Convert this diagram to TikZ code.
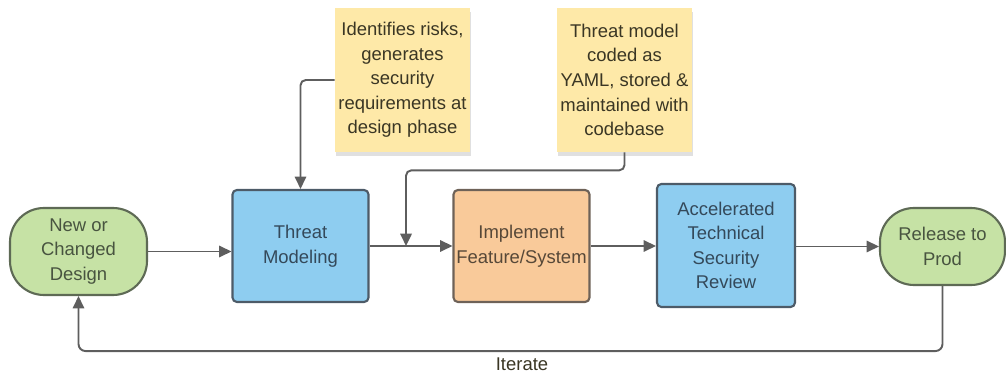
\documentclass[tikz,border=0pt]{standalone}
\usepackage{fontspec}
\setmainfont{Liberation Sans}
\usetikzlibrary{arrows.meta,shadows,calc}

\definecolor{termgreen}{HTML}{C6E2A5}
\definecolor{termedge}{HTML}{5E6A55}
\definecolor{termtext}{HTML}{485440}
\definecolor{procblue}{HTML}{8ECDF0}
\definecolor{procedge}{HTML}{4D5B68}
\definecolor{proctext}{HTML}{34495A}
\definecolor{implorange}{HTML}{F9CA9A}
\definecolor{impledge}{HTML}{6E6258}
\definecolor{impltext}{HTML}{574838}
\definecolor{noteyellow}{HTML}{FEE9A8}
\definecolor{notetext}{HTML}{3A3624}
\definecolor{linegray}{HTML}{5E5E5E}

\begin{document}
\begin{tikzpicture}[
  font=\fontsize{10.5}{14}\selectfont,
  flow/.style={draw=linegray, line width=1.1pt, -{Triangle[length=7pt,width=6.5pt]}},
  terminal/.style={draw=termedge, fill=termgreen, text=termtext, line width=1.2pt,
    rounded corners=0.68cm, align=center, inner sep=0pt},
  process/.style={line width=1.2pt, rounded corners=2.5pt, align=center,
    inner sep=0pt, minimum width=2.72cm},
  note/.style={fill=noteyellow, text=notetext, align=center, inner sep=0pt,
    minimum width=2.7cm, minimum height=2.88cm,
    drop shadow={shadow xshift=0.5pt, shadow yshift=-2pt, opacity=0.12, fill=black}},
]
  \useasboundingbox (0,0) rectangle (20.12,7.48);

  % main flow
  \node[terminal, minimum width=2.74cm, minimum height=1.74cm] (new) at (1.57,2.45)
    {New or\\Changed\\Design};
  \node[process, draw=procedge, fill=procblue, text=proctext, minimum height=2.24cm]
    (threat) at (6.01,2.56) {Threat\\Modeling};
  \node[process, draw=impledge, fill=implorange, text=impltext, minimum height=2.24cm]
    (impl) at (10.43,2.56) {Implement\\Feature/System};
  \node[process, draw=procedge, fill=procblue, text=proctext, minimum width=2.76cm,
    minimum height=2.46cm] (review) at (14.52,2.57)
    {Accelerated\\Technical\\Security\\Review};
  \node[terminal, minimum width=2.5cm, minimum height=1.54cm] (release) at (18.85,2.55)
    {Release to\\Prod};

  % sticky notes
  \node[note] (risks) at (8.05,5.88)
    {Identifies risks,\\generates\\security\\requirements at\\design phase};
  \node[note] (yaml) at (12.49,5.88)
    {Threat model\\coded as\\YAML, stored \&\\maintained with\\codebase};

  \coordinate (merge) at ($(threat.east)!0.44!(impl.west)$);

  \draw[flow] (new.east) -- (new.east -| threat.west);
  \draw[flow] (threat) -- (impl);
  \draw[flow] (impl) -- (impl -| review.west);
  \draw[flow] (review.east |- release) -- (release);

  \draw[flow, rounded corners=3pt] (risks.west) -| (threat.north);
  \draw[flow, rounded corners=3pt] (yaml.south) -- ++(0,-0.36) -| (merge);

  % loop back
  \draw[flow, rounded corners=4pt] (release.south) -- ++(0,-1.3) -| (new.south);
  \node[text=notetext] (iterate) at (10.44,0.2) {Iterate};
\end{tikzpicture}
\end{document}
